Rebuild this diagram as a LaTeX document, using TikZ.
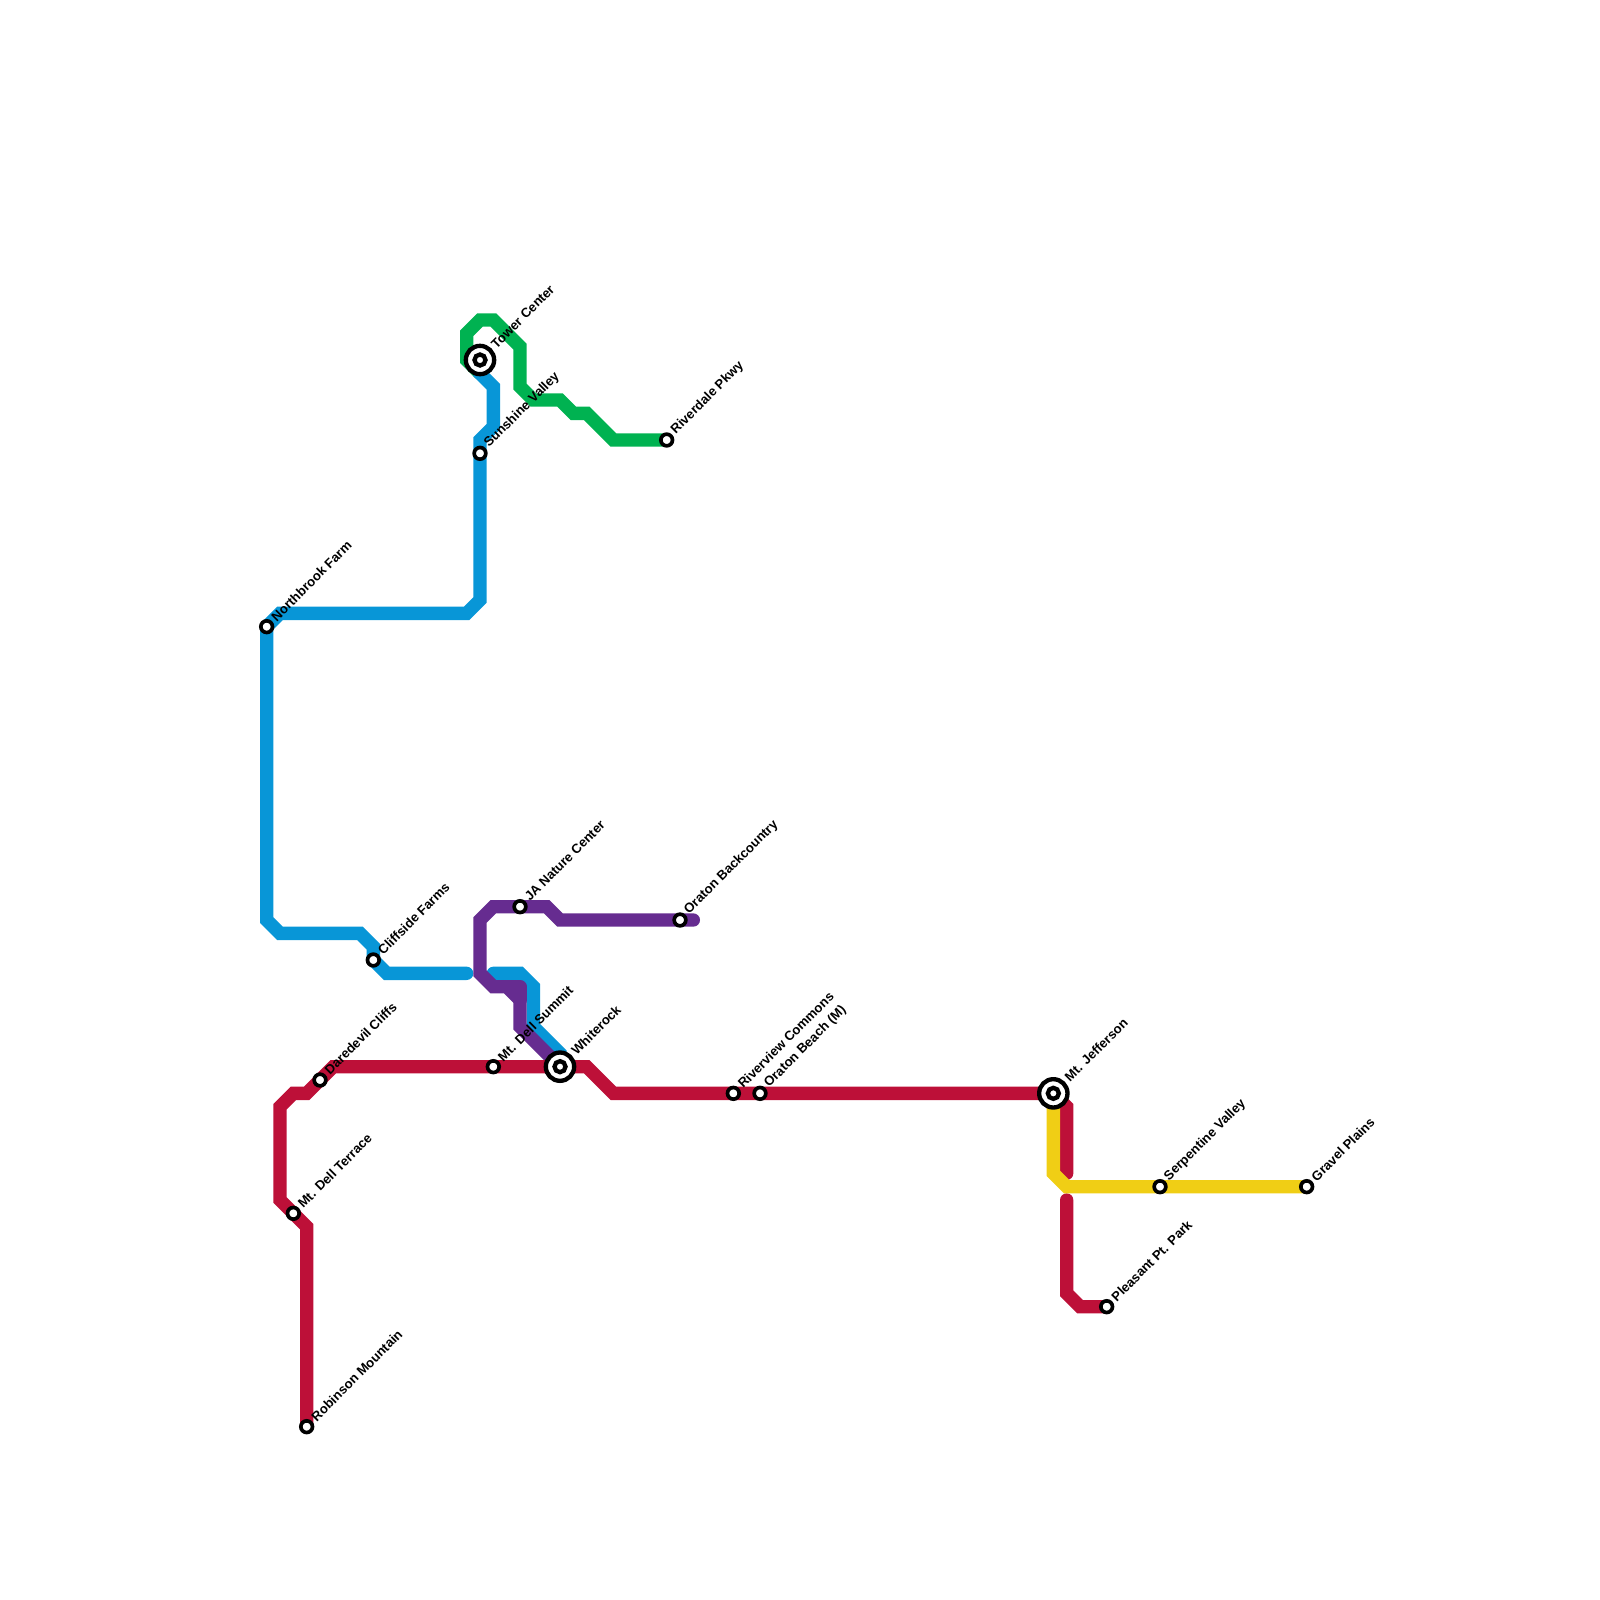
\documentclass[tikz,border=0pt]{standalone}
\usepackage{fontspec}
\setmainfont{Liberation Sans}
\definecolor{lineblue}{HTML}{0896D7}
\definecolor{linegreen}{HTML}{00B251}
\definecolor{linepurple}{HTML}{662C90}
\definecolor{linered}{HTML}{BD1038}
\definecolor{lineyellow}{HTML}{F0CE15}
\tikzset{
  metro/.style={line width=0.4cm, line cap=round, line join=miter},
  stop/.style={circle, draw=black, fill=white, line width=0.11cm, inner sep=0pt, minimum size=0.35cm},
  hubring/.style={circle, draw=black, fill=white, line width=0.13cm, inner sep=0pt, minimum size=0.85cm},
  hubdot/.style={circle, draw=black, fill=white, line width=0.13cm, inner sep=0pt, minimum size=0.33cm},
  stoplabel/.style={rotate=45, anchor=west, inner sep=0pt, font=\bfseries\fontsize{11.2pt}{11.2pt}\selectfont}
}
\begin{document}
\begin{tikzpicture}[x=0.4cm, y=-0.4cm]
  \useasboundingbox (0,0) rectangle (120,120);
  % Stations
  \foreach \nm/\px/\py in {northbrook/20/47, sunshine/36/34, riverdale/50/33, cliffside/28/72, janature/39/68,
      backcountry/51/69, dellsummit/37/80, daredevil/24/81, dellterrace/22/91, robinson/23/107, riverview/55/82,
      oratonbeach/57/82, serpentine/87/89, gravel/98/89, pleasant/83/98, tower/36/27, whiterock/42/80, jefferson/79/82} {
    \coordinate (\nm) at (\px,\py);
  }

  % Green line
  \draw[metro, linegreen] (36,28) -- (35,27) -- (35,25) -- (36,24) -- (37,24) -- (39,26) -- (39,29) -- (40,30) -- (42,30) -- (43,31) -- (44,31) -- (46,33) -- (riverdale);

  % Blue line
  \draw[metro, lineblue] (northbrook) -- (21,46) -- (35,46) -- (36,45) -- (sunshine) -- (36,33) -- (37,32) -- (37,29) -- (36,28) -- (tower);
  \draw[metro, lineblue] (northbrook) -- (20,69) -- (21,70) -- (27,70) -- (28,71) -- (cliffside) -- (29,73) -- (35,73);
  \draw[metro, lineblue] (37,73) -- (39,73) -- (40,74) -- (40,77) -- (42,79) -- (whiterock);

  % Purple line
  \draw[metro, linepurple] (52,69) -- (backcountry) -- (42,69) -- (41,68) -- (janature) -- (37,68) -- (36,69) -- (36,73) -- (37,74) -- (38,74) -- (39,75) -- (39,77) -- (whiterock);
  \draw[metro, linepurple, line join=round] (38,74) -- (39,74) -- (39,75);

  % Red line
  \draw[metro, linered] (robinson) -- (23,92) -- (dellterrace) -- (21,90) -- (21,83) -- (22,82) -- (23,82) -- (daredevil) -- (25,80) -- (dellsummit) -- (whiterock) -- (44,80) -- (46,82) -- (riverview) -- (oratonbeach) -- (jefferson) -- (80,83) -- (80,88);
  \draw[metro, linered] (80,90) -- (80,97) -- (81,98) -- (pleasant);

  % Yellow line
  \draw[metro, lineyellow] (jefferson) -- (79,88) -- (80,89) -- (serpentine) -- (gravel);

  \foreach \nm/\lab in {northbrook/Northbrook Farm, sunshine/Sunshine Valley,
      riverdale/Riverdale Pkwy, cliffside/Cliffside Farms, janature/JA Nature Center,
      backcountry/Oraton Backcountry, dellsummit/Mt. Dell Summit, daredevil/Daredevil Cliffs,
      dellterrace/Mt. Dell Terrace, robinson/Robinson Mountain, riverview/Riverview Commons,
      oratonbeach/Oraton Beach (M), serpentine/Serpentine Valley, gravel/Gravel Plains,
      pleasant/Pleasant Pt. Park} {
    \node[stop] (\nm-stop) at (\nm) {};
    \node[stoplabel] (\nm-text) at ([shift={(0.5,-0.58)}]\nm) {\lab};
  }
  \foreach \nm/\lab in {tower/Tower Center, whiterock/Whiterock, jefferson/Mt. Jefferson} {
    \node[hubring] (\nm-ring) at (\nm) {};
    \node[hubdot] (\nm-dot) at (\nm) {};
    \node[stoplabel] (\nm-text) at ([shift={(1,-1.05)}]\nm) {\lab};
  }
\end{tikzpicture}
\end{document}
